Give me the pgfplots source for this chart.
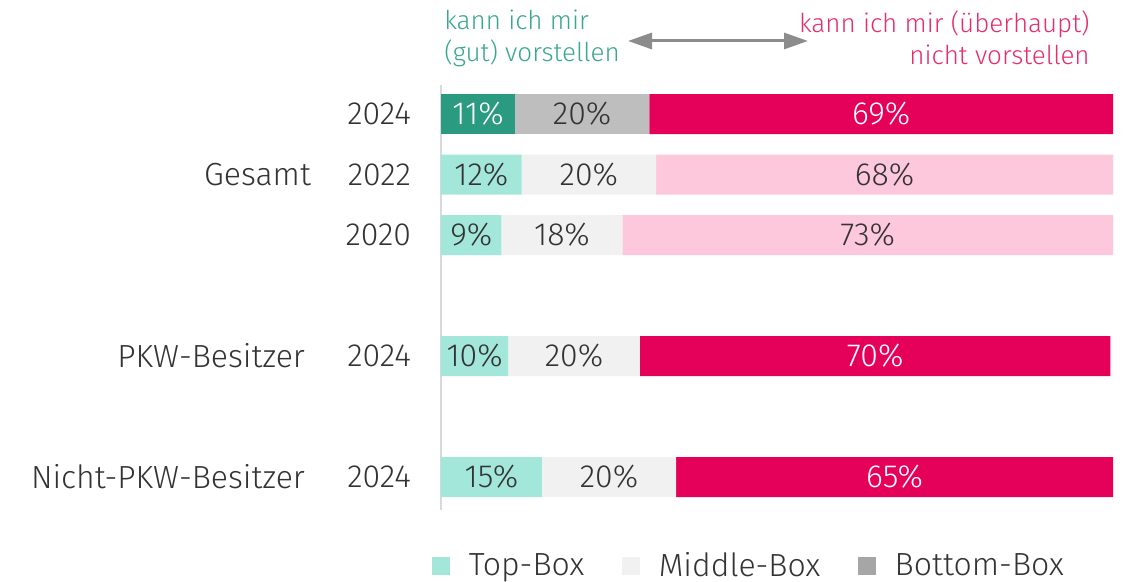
\documentclass[border=0pt]{standalone}
\usepackage{pgfplots}
\pgfplotsset{compat=1.18}
\usetikzlibrary{arrows.meta}
\usepackage{fontspec}
\setmainfont{Fira Sans}[UprightFont=* Light]
\definecolor{tealdark}{HTML}{2A9A80}
\definecolor{teallight}{HTML}{A3E6DA}
\definecolor{graymid}{HTML}{BEBEBE}
\definecolor{graylight}{HTML}{F1F1F1}
\definecolor{grayleg}{HTML}{A6A6A6}
\definecolor{crimson}{HTML}{E5005A}
\definecolor{pinklight}{HTML}{FDC8DC}
\definecolor{txtgray}{HTML}{333333}
\definecolor{tealtxt}{HTML}{3AA88E}
\definecolor{redtxt}{HTML}{E62E6B}
\tikzset{
  val/.style={font=\fontsize{16}{19}\selectfont, anchor=center},
  lab/.style={font=\fontsize{16}{19}\selectfont, text=txtgray, anchor=east},
}
\begin{document}
\begin{tikzpicture}
\useasboundingbox (-220.5pt,-36pt) rectangle (343pt,255pt);
\begin{axis}[
    at={(0,0)}, anchor=south west,
    scale only axis, width=336pt, height=212.5pt,
    xmin=0, xmax=100, ymin=-6.545, ymax=0.48,
    xbar stacked, bar width=20pt,
    hide x axis, axis y line*=left, ytick=\empty,
    y axis line style={draw=black!15, line width=0.6pt},
    legend image code/.code={\fill[#1, draw=none] (0pt,-4.5pt) rectangle (9pt,4.5pt); \path (16pt,0pt);},
    legend columns=3,
    legend style={draw=none, fill=none, at={(0.46,-0.132)}, anchor=center,
        font=\fontsize{16}{19}\selectfont, text=txtgray,
        /tikz/every even column/.append style={column sep=17pt}},
    clip=false,
]
% rows: 0 = Gesamt 2024, -1 = 2022, -2 = 2020, -4 = PKW-Besitzer, -6 = Nicht-PKW-Besitzer
\addplot[fill=tealdark, draw=none, forget plot] coordinates {(11,0) (0,-1) (0,-2) (0,-4) (0,-6)};
\addplot[fill=teallight, draw=none, forget plot] coordinates {(0,0) (12,-1) (9,-2) (10,-4) (15,-6)};
\addplot[fill=graymid, draw=none, forget plot] coordinates {(20,0) (0,-1) (0,-2) (0,-4) (0,-6)};
\addplot[fill=graylight, draw=none, forget plot] coordinates {(0,0) (20,-1) (18,-2) (19.6,-4) (20,-6)};
\addplot[fill=crimson, draw=none, forget plot] coordinates {(69,0) (0,-1) (0,-2) (70,-4) (65,-6)};
\addplot[fill=pinklight, draw=none, forget plot] coordinates {(0,0) (68,-1) (73,-2) (0,-4) (0,-6)};

\addlegendimage{fill=teallight}
\addlegendentry{Top-Box}
\addlegendimage{fill=graylight}
\addlegendentry{Middle-Box}
\addlegendimage{fill=grayleg}
\addlegendentry{Bottom-Box}

% anchors for the value labels, placed after the axis so they sit on top of the bars
\coordinate (v1a) at (axis cs:5.5,0);
\coordinate (v1b) at (axis cs:21,0);
\coordinate (v1c) at (axis cs:65.5,0);
\coordinate (v2a) at (axis cs:6,-1);
\coordinate (v2b) at (axis cs:22,-1);
\coordinate (v2c) at (axis cs:66,-1);
\coordinate (v3a) at (axis cs:4.5,-2);
\coordinate (v3b) at (axis cs:18,-2);
\coordinate (v3c) at (axis cs:63.5,-2);
\coordinate (v4a) at (axis cs:5,-4);
\coordinate (v4b) at (axis cs:19.8,-4);
\coordinate (v4c) at (axis cs:64.6,-4);
\coordinate (v5a) at (axis cs:7.5,-6);
\coordinate (v5b) at (axis cs:25,-6);
\coordinate (v5c) at (axis cs:67.5,-6);

\node[lab, xshift=-11.5pt] at (axis cs:0,0) {2024};
\node[lab, xshift=-11.5pt] at (axis cs:0,-1) {2022};
\node[lab, xshift=-11.5pt] at (axis cs:0,-2) {2020};
\node[lab, xshift=-11.5pt] at (axis cs:0,-4) {2024};
\node[lab, xshift=-11.5pt] at (axis cs:0,-6) {2024};
\node[lab, xshift=-61.5pt] at (axis cs:0,-1) {Gesamt};
\node[lab, xshift=-64.5pt] at (axis cs:0,-4) {PKW-Besitzer};
\node[lab, xshift=-64.5pt] at (axis cs:0,-6) {Nicht-PKW-Besitzer};
\end{axis}
\node[val, white] at (v1a) {11\%};
\node[val, txtgray] at (v1b) {20\%};
\node[val, white] at (v1c) {69\%};
\node[val, txtgray] at (v2a) {12\%};
\node[val, txtgray] at (v2b) {20\%};
\node[val, txtgray] at (v2c) {68\%};
\node[val, txtgray] at (v3a) {9\%};
\node[val, txtgray] at (v3b) {18\%};
\node[val, txtgray] at (v3c) {73\%};
\node[val, txtgray] at (v4a) {10\%};
\node[val, txtgray] at (v4b) {20\%};
\node[val, white] at (v4c) {70\%};
\node[val, txtgray] at (v5a) {15\%};
\node[val, txtgray] at (v5b) {20\%};
\node[val, white] at (v5c) {65\%};
% header above the bars
\node[anchor=north west, align=left, text=tealtxt, inner sep=0pt,
      font=\fontsize{13}{16}\selectfont] at (1.5pt,250pt) {kann ich mir\\(gut) vorstellen};
\node[anchor=north east, align=right, text=redtxt, inner sep=0pt,
      font=\fontsize{13}{16}\selectfont] at (324.5pt,250pt) {kann ich mir (überhaupt)\\nicht vorstellen};
\draw[draw=gray!90, line width=1.5pt, {Triangle[length=12pt,width=8pt]}-{Triangle[length=12pt,width=8pt]}]
    (93.5pt,234.5pt) -- (183.5pt,234.5pt);
\end{tikzpicture}
\end{document}
